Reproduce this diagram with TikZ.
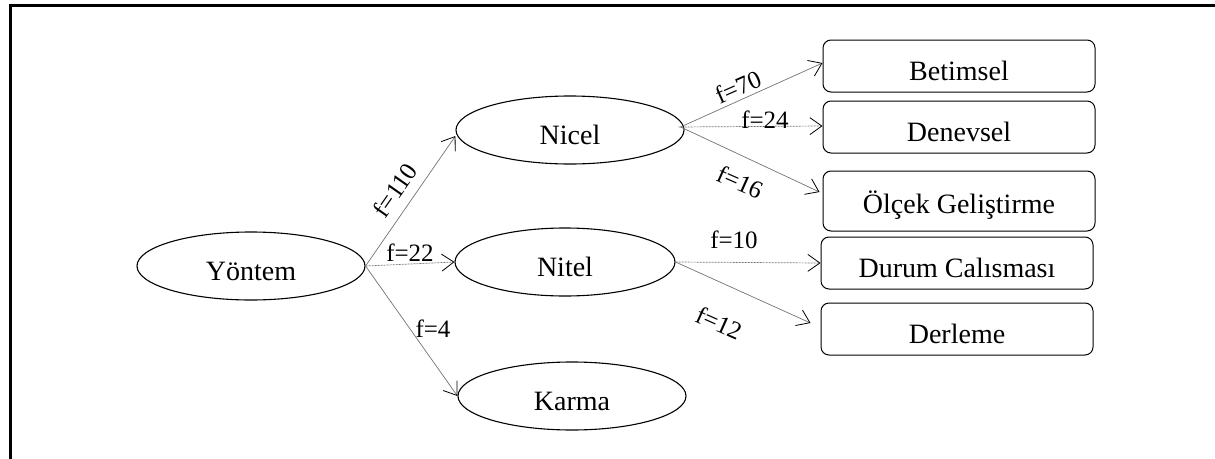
\documentclass[tikz,border=0pt]{standalone}
\usepackage{fontspec}
\setmainfont{Liberation Serif}
\usetikzlibrary{shapes.geometric,arrows.meta}

\tikzset{
  frame/.style={line width=2.7pt, line cap=rect},
  oval/.style={ellipse, draw, line width=1.1pt, minimum width=228pt, minimum height=68pt,
    inner sep=0pt, text height=29pt, text depth=0pt, font=\fontsize{28}{32}\selectfont},
  catbox/.style={rectangle, draw, line width=1pt, rounded corners=8pt, minimum width=272pt,
    minimum height=52pt, inner sep=0pt, text height=28pt, text depth=0pt,
    font=\fontsize{28}{32}\selectfont},
  link/.style={draw=black!55, line width=0.7pt,
    -{Straight Barb[length=12pt,width=17pt,color=black,line width=0.8pt]}},
  dotlink/.style={link, dash pattern=on 2pt off 1pt},
  freq/.style={inner sep=0pt, font=\fontsize{25}{28}\selectfont}
}

\begin{document}
\begin{tikzpicture}[x=1pt,y=-1pt]
\useasboundingbox (0,0) rectangle (1215,458);

% open frame: top and left rules
\draw[frame] (1215,5.5) -- (10.5,5.5) -- (10.5,458);

% method ovals
\node[oval] (yontem) at (251,266) {Yöntem};
\node[oval] (nicel)  at (570,130) {Nicel};
\node[oval, minimum width=220pt] (nitel) at (565,262) {Nitel};
\node[oval] (karma)  at (572,396) {Karma};

% design boxes
\node[catbox] (betimsel) at (959,66)  {Betimsel};
\node[catbox] (denevsel) at (959,127) {Denevsel};
\node[catbox, minimum height=60pt, text height=25pt] (olcek) at (959,201) {Ölçek Geliştirme};
\node[catbox] (durum)    at (957,263) {Durum Calısması};
\node[catbox] (derleme)  at (957,329) {Derleme};

% connectors
\draw[link]    (yontem.east) -- ([yshift=-6pt]nicel.west);
\draw[dotlink] (yontem.east) -- (nitel.west);
\draw[link]    (yontem.east) -- (karma.west);

\draw[link]    ([xshift=-4pt,yshift=3pt]nicel.east) -- ([yshift=3pt]betimsel.west);
\draw[dotlink] ([xshift=-6pt,yshift=3pt]nicel.east) -- ([yshift=1pt]denevsel.west);
\draw[link]    ([xshift=-4pt,yshift=3pt]nicel.east) -- ([xshift=-3pt,yshift=9pt]olcek.west);

\draw[dotlink] (nitel.east) -- (durum.west);
\draw[link]    (nitel.east) -- ([xshift=-10pt,yshift=6pt]derleme.west);

% frequencies
\node[freq, rotate=55]  (f110) at (395,190) {f=110};
\node[freq]             (f22)  at (410,253) {f=22};
\node[freq]             (f4)   at (433,329) {f=4};
\node[freq, rotate=24]  (f70)  at (738,87)  {f=70};
\node[freq]             (f24)  at (765,120) {f=24};
\node[freq, rotate=-24] (f16)  at (740,182) {f=16};
\node[freq]             (f10)  at (734,240) {f=10};
\node[freq, rotate=-24] (f12)  at (719,323) {f=12};
\end{tikzpicture}
\end{document}
